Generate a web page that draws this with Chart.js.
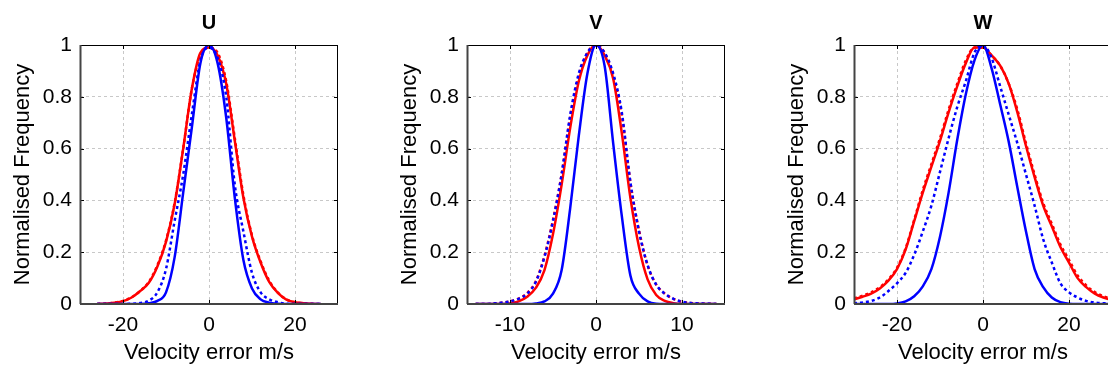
<!DOCTYPE html>
<html>
<head>
<meta charset="utf-8">
<script src="https://cdn.jsdelivr.net/npm/chart.js@4.4.0/dist/chart.umd.min.js"></script>
<style>
  html, body { margin: 0; padding: 0; background: #fff; overflow: hidden; }
  #wrap { position: relative; width: 1108px; height: 373px; overflow: hidden; }
  canvas { position: absolute; top: 0; }
</style>
</head>
<body>
<div id="wrap">
  <canvas id="chart-u" width="388" height="373" style="left:0px"></canvas>
  <canvas id="chart-v" width="388" height="373" style="left:387px"></canvas>
  <canvas id="chart-w" width="388" height="373" style="left:774px"></canvas>
</div>
<script>
// tick labels
const yTicks = [0, 0.2, 0.4, 0.6, 0.8, 1];
const uTicks = [-20, 0, 20];
const vTicks = [-10, 0, 10];
const wTicks = [-20, 0, 20];

// U component (velocity error, m/s)
const uX = [-26, -24, -22, -20, -18, -16, -14, -12, -10, -8, -6, -4, -2, 0, 2, 4, 6, 8, 10, 12, 14, 16, 18, 20, 22, 24, 26];
const uRedSolid   = [0, 0.002, 0.005, 0.011, 0.025, 0.05, 0.082, 0.145, 0.24, 0.385, 0.6, 0.83, 0.97, 0.99, 0.96, 0.85, 0.63, 0.41, 0.26, 0.16, 0.085, 0.043, 0.017, 0.007, 0.003, 0.001, 0];
const uRedDotted  = [0, 0.002, 0.005, 0.012, 0.026, 0.05, 0.085, 0.15, 0.245, 0.39, 0.6, 0.83, 0.96, 0.99, 0.97, 0.86, 0.64, 0.42, 0.265, 0.165, 0.09, 0.045, 0.018, 0.007, 0.003, 0.001, 0];
const uBlueSolid  = [0, 0, 0, 0, 0, 0, 0.003, 0.012, 0.045, 0.18, 0.43, 0.68, 0.93, 1, 0.93, 0.72, 0.41, 0.17, 0.06, 0.018, 0.005, 0.001, 0, 0, 0, 0, 0];
const uBlueDotted = [0, 0, 0, 0, 0.001, 0.004, 0.013, 0.045, 0.135, 0.32, 0.5, 0.73, 0.94, 0.99, 0.95, 0.8, 0.46, 0.28, 0.12, 0.045, 0.018, 0.007, 0.001, 0, 0, 0, 0];

// V component
const vX = [-14, -13, -12, -11, -10, -9, -8, -7, -6, -5, -4, -3, -2, -1, 0, 1, 2, 3, 4, 5, 6, 7, 8, 9, 10, 11, 12, 13, 14];
const vRedSolid   = [0, 0, 0, 0, 0.002, 0.01, 0.028, 0.062, 0.13, 0.27, 0.46, 0.68, 0.86, 0.96, 1, 0.96, 0.87, 0.66, 0.41, 0.22, 0.095, 0.035, 0.012, 0.003, 0, 0, 0, 0, 0];
const vRedDotted  = [0, 0, 0.002, 0.005, 0.01, 0.021, 0.042, 0.088, 0.185, 0.325, 0.5, 0.72, 0.88, 0.97, 1, 0.97, 0.88, 0.73, 0.47, 0.285, 0.15, 0.075, 0.04, 0.02, 0.009, 0.004, 0.002, 0.001, 0];
const vBlueSolid  = [0, 0, 0, 0, 0, 0, 0, 0.002, 0.01, 0.04, 0.13, 0.37, 0.65, 0.89, 1, 0.92, 0.62, 0.34, 0.11, 0.04, 0.01, 0.001, 0, 0, 0, 0, 0, 0, 0];
const vBlueDotted = [0, 0, 0.002, 0.005, 0.01, 0.02, 0.04, 0.085, 0.18, 0.32, 0.5, 0.73, 0.89, 0.97, 1, 0.97, 0.89, 0.74, 0.47, 0.28, 0.15, 0.075, 0.04, 0.02, 0.009, 0.004, 0.002, 0.001, 0];

// W component
const wX = [-30, -28, -26, -24, -22, -20, -18, -16, -14, -12, -10, -8, -6, -4, -2, 0, 2, 4, 6, 8, 10, 12, 14, 16, 18, 20, 22, 24, 26, 28, 30];
const wRedSolid   = [0.018, 0.028, 0.04, 0.06, 0.09, 0.135, 0.21, 0.32, 0.43, 0.53, 0.63, 0.74, 0.84, 0.93, 0.99, 0.99, 0.96, 0.92, 0.85, 0.74, 0.61, 0.49, 0.38, 0.3, 0.22, 0.16, 0.1, 0.065, 0.04, 0.025, 0.015];
const wRedDotted  = [0.022, 0.032, 0.045, 0.065, 0.095, 0.14, 0.215, 0.325, 0.44, 0.54, 0.64, 0.75, 0.85, 0.94, 0.99, 0.99, 0.96, 0.92, 0.85, 0.75, 0.62, 0.5, 0.39, 0.31, 0.23, 0.17, 0.11, 0.072, 0.046, 0.03, 0.02];
const wBlueSolid  = [0, 0, 0, 0, 0, 0.002, 0.01, 0.03, 0.068, 0.135, 0.26, 0.43, 0.633, 0.81, 0.94, 1, 0.91, 0.77, 0.625, 0.45, 0.28, 0.135, 0.065, 0.025, 0.007, 0.001, 0, 0, 0, 0, 0];
const wBlueDotted = [0.003, 0.006, 0.012, 0.025, 0.05, 0.08, 0.12, 0.19, 0.28, 0.38, 0.51, 0.64, 0.76, 0.86, 0.97, 1, 0.95, 0.84, 0.73, 0.62, 0.5, 0.38, 0.25, 0.16, 0.08, 0.045, 0.025, 0.012, 0.006, 0.003, 0.001];

const FONT = "'Liberation Sans', Arial, Helvetica, sans-serif";
const RED = '#ff0000';
const BLUE = '#0000ff';

// box round the plot with inward tick marks, like the matlab axes
const frame = {
  id: 'frame',
  afterDatasetsDraw(chart) {
    const { ctx, chartArea: a, scales: { x, y } } = chart;
    ctx.save();
    ctx.strokeStyle = '#000';
    ctx.lineWidth = 1;
    ctx.beginPath();
    x.ticks.forEach(t => {
      const px = Math.round(x.getPixelForValue(t.value)) + 0.5;
      ctx.moveTo(px, a.bottom); ctx.lineTo(px, a.bottom - 4);
      ctx.moveTo(px, a.top); ctx.lineTo(px, a.top + 4);
    });
    y.ticks.forEach(t => {
      const py = Math.round(y.getPixelForValue(t.value)) + 0.5;
      ctx.moveTo(a.left, py); ctx.lineTo(a.left + 4, py);
      ctx.moveTo(a.right, py); ctx.lineTo(a.right - 4, py);
    });
    ctx.stroke();
    ctx.strokeRect(a.left + 0.5, a.top + 0.5, a.width - 1, a.height - 1);
    ctx.strokeStyle = '#444';
    ctx.lineWidth = 2;
    ctx.beginPath();
    ctx.moveTo(a.left, a.bottom); ctx.lineTo(a.right, a.bottom);
    ctx.moveTo(a.left + 0.5, a.top); ctx.lineTo(a.left + 0.5, a.bottom);
    ctx.stroke();
    ctx.restore();
  }
};

function line(xs, ys, color, dotted) {
  return {
    data: xs.map((x, i) => ({ x: x, y: ys[i] })),
    borderColor: color,
    borderWidth: 2.5,
    borderDash: dotted ? [3, 3] : [],
    borderCapStyle: 'butt',
    pointRadius: 0,
    fill: false,
    cubicInterpolationMode: 'monotone'
  };
}

function makeChart(id, title, xs, series, lim, ticks) {
  return new Chart(id, {
    type: 'line',
    data: {
      // first dataset is drawn on top
      datasets: [
        line(xs, series[3], BLUE, true),
        line(xs, series[2], BLUE, false),
        line(xs, series[0], RED, false),
        line(xs, series[1], RED, true)
      ]
    },
    options: {
      responsive: false,
      animation: false,
      layout: { padding: { left: 0, right: 50, top: 0, bottom: 0 } },
      plugins: {
        legend: { display: false },
        tooltip: { enabled: false },
        title: {
          display: true,
          text: title,
          fullSize: false,
          color: '#000',
          font: { family: FONT, size: 20, weight: 'bold' },
          padding: { top: 11, bottom: 10 }
        }
      },
      scales: {
        x: {
          type: 'linear',
          min: -lim,
          max: lim,
          afterBuildTicks: s => { s.ticks = ticks.map(v => ({ value: v })); },
          afterFit: s => { s.height = 69; },
          grid: { color: '#c8c8c8', lineWidth: 1, drawTicks: false },
          border: { display: false, dash: [3, 3] },
          ticks: { color: '#000', padding: 9, font: { family: FONT, size: 21 }, callback: v => String(v) },
          title: {
            display: true,
            text: 'Velocity error m/s',
            color: '#000',
            font: { family: FONT, size: 22 },
            padding: { top: 0, bottom: 7 }
          }
        },
        y: {
          min: 0,
          max: 1,
          afterBuildTicks: s => { s.ticks = yTicks.map(v => ({ value: v })); },
          afterFit: s => { s.width = 80; },
          grid: { color: '#c8c8c8', lineWidth: 1, drawTicks: false },
          border: { display: false, dash: [3, 3] },
          ticks: { color: '#000', padding: 8, font: { family: FONT, size: 21 }, callback: v => String(v) },
          title: {
            display: true,
            text: 'Normalised Frequency',
            color: '#000',
            font: { family: FONT, size: 22 },
            padding: { top: 10, bottom: 0 }
          }
        }
      }
    },
    plugins: [frame]
  });
}

makeChart('chart-u', 'U', uX, [uRedSolid, uRedDotted, uBlueSolid, uBlueDotted], 30, uTicks);
makeChart('chart-v', 'V', vX, [vRedSolid, vRedDotted, vBlueSolid, vBlueDotted], 15, vTicks);
makeChart('chart-w', 'W', wX, [wRedSolid, wRedDotted, wBlueSolid, wBlueDotted], 30, wTicks);
</script>
</body>
</html>
